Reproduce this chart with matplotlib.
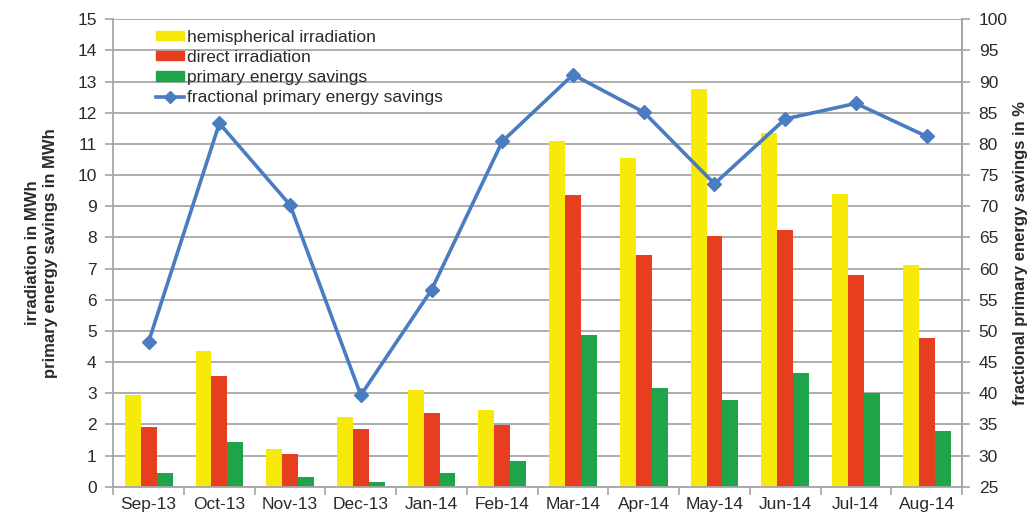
import numpy as np
import matplotlib.pyplot as plt
from matplotlib.lines import Line2D
from matplotlib.patches import Patch

plt.rcParams['font.family'] = ['Liberation Sans', 'DejaVu Sans']

months = ['Sep-13', 'Oct-13', 'Nov-13', 'Dec-13', 'Jan-14', 'Feb-14',
          'Mar-14', 'Apr-14', 'May-14', 'Jun-14', 'Jul-14', 'Aug-14']
hemispherical = [2.95, 4.35, 1.2, 2.25, 3.12, 2.48, 11.1, 10.55, 12.75, 11.35, 9.38, 7.1]
direct = [1.93, 3.57, 1.05, 1.85, 2.38, 1.98, 9.35, 7.45, 8.05, 8.25, 6.8, 4.78]
savings = [0.43, 1.43, 0.33, 0.15, 0.45, 0.82, 4.87, 3.18, 2.8, 3.65, 3.02, 1.8]
fraction = [48.3, 83.3, 70.2, 39.7, 56.6, 80.4, 91.1, 85.1, 73.6, 84.0, 86.5, 81.2]

yellow = '#F7EA0A'
red = '#E63E1F'
green = '#1FA44A'
blue = '#4A7CC2'
grey = '#A6A6A6'
txt = '#2a2a2a'

fig = plt.figure(figsize=(10.30, 5.19), dpi=100)
ax = fig.add_axes([0.110, 0.062, 0.824, 0.901])
x = np.arange(len(months))
w = 0.225

ax.bar(x - w, hemispherical, w, color=yellow, zorder=2)
ax.bar(x, direct, w, color=red, zorder=2)
ax.bar(x + w, savings, w, color=green, zorder=2)

ax.set_xlim(-0.5, len(months) - 0.5)
ax.set_ylim(0, 15)
ax.set_yticks(range(0, 16))
ax.grid(axis='y', color=grey, linewidth=1.3, zorder=0)
ax.set_axisbelow(True)

# category ticks sit on the group boundaries, labels in the middle
ax.set_xticks(np.arange(-0.5, len(months), 1.0))
ax.set_xticklabels([])
ax.set_xticks(x, minor=True)
ax.set_xticklabels(months, minor=True)
ax.tick_params(axis='x', which='major', length=6, color=grey, width=1.2)
ax.tick_params(axis='x', which='minor', length=0, pad=7, labelsize=12.5, labelcolor=txt)
ax.tick_params(axis='y', length=6, color=grey, width=1.2, labelsize=12.5, labelcolor=txt, pad=6)

ax.spines['top'].set_visible(False)
for s in ['left', 'bottom', 'right']:
    ax.spines[s].set_color(grey)
    ax.spines[s].set_linewidth(1.3)

ax.set_ylabel('irradiation in MWh\nprimary energy savings in MWh',
              fontsize=12, fontweight='bold', color=txt, labelpad=14)

ax2 = ax.twinx()
ax2.plot(x, fraction, color=blue, linewidth=2.6, marker='D', markersize=7, zorder=3)
ax2.set_ylim(25, 100)
ax2.set_yticks(range(25, 101, 5))
ax2.tick_params(axis='y', length=6, color=grey, width=1.2, labelsize=12.5, labelcolor=txt, pad=6)
for s in ['top', 'left', 'bottom']:
    ax2.spines[s].set_visible(False)
ax2.spines['right'].set_color(grey)
ax2.spines['right'].set_linewidth(1.3)
ax2.set_ylabel('fractional primary energy savings in %',
               fontsize=12, fontweight='bold', color=txt, labelpad=4)

handles = [
    Patch(color=yellow, label='hemispherical irradiation'),
    Patch(color=red, label='direct irradiation'),
    Patch(color=green, label='primary energy savings'),
    Line2D([], [], color=blue, linewidth=2.6, marker='D', markersize=6,
           label='fractional primary energy savings'),
]
leg = ax2.legend(handles=handles, loc='upper left', bbox_to_anchor=(0.038, 1.0),
                 frameon=False, fontsize=12.5, handlelength=1.6, handleheight=0.45,
                 handletextpad=0.2, labelspacing=0.3, borderaxespad=0.2)
for t in leg.get_texts():
    t.set_color(txt)

fig.savefig('out.png', dpi=100)
